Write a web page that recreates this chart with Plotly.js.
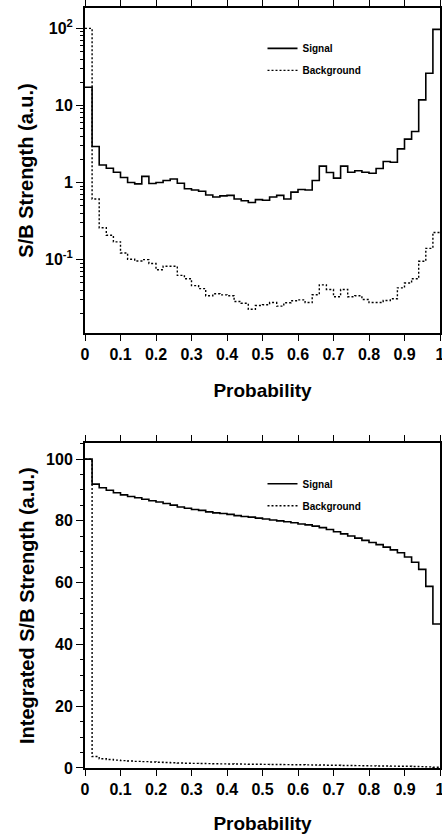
<!DOCTYPE html>
<html>
<head>
<meta charset="utf-8">
<script src="https://cdn.plot.ly/plotly-3.0.1.min.js"></script>
<style>html,body{margin:0;padding:0;background:#fff;}#chart{width:442px;height:834px;}</style>
</head>
<body>
<div id="chart"></div>
<script>
// Bin edges of the probability histogram (50 bins)
const binEdges = [0,0.02,0.04,0.06,0.08,0.1,0.12,0.14,0.16,0.18,0.2,0.22,0.24,0.26,0.28,0.3,0.32,0.34,0.36,0.38,0.4,0.42,0.44,0.46,0.48,0.5,0.52,0.54,0.56,0.58,0.6,0.62,0.64,0.66,0.68,0.7,0.72,0.74,0.76,0.78,0.8,0.82,0.84,0.86,0.88,0.9,0.92,0.94,0.96,0.98,1];

// S/B strength per bin (a.u.)
const signalStrength = [17.2,2.93,1.69,1.53,1.36,1.16,1.0,0.96,1.2,0.97,1.0,1.06,1.11,0.98,0.83,0.80,0.77,0.69,0.65,0.67,0.68,0.61,0.58,0.55,0.60,0.59,0.65,0.68,0.61,0.75,0.81,0.80,1.06,1.63,1.35,1.14,1.63,1.36,1.42,1.36,1.32,1.52,1.87,1.83,2.73,3.65,4.58,11.8,26.1,97];
const backgroundStrength = [100,0.61,0.259,0.207,0.17,0.122,0.101,0.096,0.1,0.089,0.074,0.082,0.082,0.0625,0.0565,0.046,0.042,0.034,0.036,0.0349,0.034,0.0286,0.0272,0.0227,0.0254,0.026,0.0277,0.0249,0.0275,0.0292,0.030,0.0277,0.035,0.047,0.041,0.033,0.041,0.033,0.034,0.0304,0.0277,0.0277,0.0295,0.031,0.043,0.0496,0.0565,0.095,0.14,0.225];

// Integrated S/B strength (a.u.)
const signalIntegrated = [100,91.9,90.7,89.9,89.1,88.4,87.9,87.5,87.0,86.5,86.1,85.6,85.1,84.5,84.1,83.7,83.4,82.9,82.6,82.4,82.1,81.7,81.4,81.2,80.9,80.6,80.3,80.0,79.7,79.4,79.0,78.7,78.3,77.8,77.2,76.5,75.8,75.1,74.4,73.7,73.0,72.3,71.5,70.6,69.7,68.3,66.6,64.3,58.8,46.6];
const backgroundIntegrated = [100,3.7,3.0,2.75,2.55,2.4,2.25,2.15,2.05,1.95,1.86,1.78,1.7,1.62,1.56,1.5,1.46,1.42,1.38,1.35,1.31,1.28,1.25,1.22,1.2,1.17,1.15,1.12,1.1,1.07,1.04,1.01,0.98,0.95,0.9,0.87,0.83,0.79,0.76,0.73,0.7,0.67,0.65,0.62,0.59,0.55,0.5,0.44,0.35,0.22];

const seriesNames = ['Signal','Background'];
const probTicks = ['0','0.1','0.2','0.3','0.4','0.5','0.6','0.7','0.8','0.9','1'];
const logTickVals = [0.1,1,10,100];
const logTickText = ['10<sup>-1</sup>','1','10','10<sup>2</sup>'];

function stepY(vals){ return vals.concat([vals[vals.length-1]]); }

const FONT = 'Liberation Sans, Arial, Helvetica, sans-serif';

const traces = [
  {x: binEdges, y: stepY(signalStrength), name: seriesNames[0], mode:'lines', line:{shape:'hv', color:'#000', width:1.6}, xaxis:'x', yaxis:'y', legend:'legend', legendgroup:'a'},
  {x: binEdges, y: stepY(backgroundStrength), name: seriesNames[1], mode:'lines', line:{shape:'hv', color:'#000', width:1.4, dash:'2px,2px'}, xaxis:'x', yaxis:'y', legend:'legend', legendgroup:'b'},
  {x: binEdges, y: stepY(signalIntegrated), name: seriesNames[0], mode:'lines', line:{shape:'hv', color:'#000', width:1.6}, xaxis:'x2', yaxis:'y2', legend:'legend2', legendgroup:'c'},
  {x: binEdges, y: stepY(backgroundIntegrated), name: seriesNames[1], mode:'lines', line:{shape:'hv', color:'#000', width:1.4, dash:'2px,2px'}, xaxis:'x2', yaxis:'y2', legend:'legend2', legendgroup:'d'}
];

const minorLog = [];
[0.01,0.1,1,10,100].forEach(d => { for (let k=2;k<=9;k++) minorLog.push(d*k); });

function xAxis(anchor){
  return {
    anchor: anchor, domain:[0,1], range:[0,1], tickmode:'array',
    tickvals:[0,0.1,0.2,0.3,0.4,0.5,0.6,0.7,0.8,0.9,1], ticktext: probTicks,
    ticks:'outside', ticklen:6, tickwidth:1, tickcolor:'#000',
    showline:true, linewidth:2, linecolor:'#000', mirror:'ticks',
    showgrid:false, zeroline:false, ticklabeloverflow:'allow',
    tickfont:{family:FONT, size:16, color:'#000', weight:'bold'},
    title:{text:'Probability', font:{family:FONT, size:19, color:'#000', weight:'bold'}, standoff:22}
  };
}

const layout = {
  width:442, height:834,
  margin:{l:85, r:2, t:8, b:66},
  paper_bgcolor:'#fff', plot_bgcolor:'#fff',
  showlegend:true,
  xaxis: xAxis('y'),
  xaxis2: xAxis('y2'),
  yaxis: {
    domain:[0.5725,1], type:'log', range:[-1.951,2.264], anchor:'x',
    tickmode:'array', tickvals:logTickVals, ticktext:logTickText,
    ticks:'outside', ticklen:7, tickwidth:1, tickcolor:'#000',
    minor:{tickmode:'array', tickvals:minorLog, ticks:'outside', ticklen:3, tickwidth:1, tickcolor:'#000'},
    showline:true, linewidth:2, linecolor:'#000', mirror:true,
    showgrid:false, zeroline:false,
    tickfont:{family:FONT, size:16, color:'#000', weight:'bold'},
    title:{text:'S/B Strength (a.u.)', font:{family:FONT, size:20, color:'#000', weight:'bold'}, standoff:6}
  },
  yaxis2: {
    domain:[0,0.4272], range:[0,105.1], anchor:'x2',
    tickmode:'linear', tick0:0, dtick:20,
    ticks:'outside', ticklen:7, tickwidth:1, tickcolor:'#000',
    minor:{dtick:5, ticks:'outside', ticklen:3, tickwidth:1, tickcolor:'#000'},
    showline:true, linewidth:2, linecolor:'#000', mirror:true,
    showgrid:false, zeroline:false,
    tickfont:{family:FONT, size:16, color:'#000', weight:'bold'},
    title:{text:'Integrated S/B Strength (a.u.)', font:{family:FONT, size:20, color:'#000', weight:'bold'}, standoff:6}
  },
  legend: {x:0.5, y:0.966, xanchor:'left', yanchor:'top', bgcolor:'rgba(0,0,0,0)', borderwidth:0,
    font:{family:FONT, size:10, color:'#000', weight:'bold'}, tracegroupgap:3, itemwidth:30},
  legend2: {x:0.5, y:0.393, xanchor:'left', yanchor:'top', bgcolor:'rgba(0,0,0,0)', borderwidth:0,
    font:{family:FONT, size:10, color:'#000', weight:'bold'}, tracegroupgap:3, itemwidth:30}
};

Plotly.newPlot('chart', traces, layout, {staticPlot:true, displayModeBar:false});
</script>
</body>
</html>
